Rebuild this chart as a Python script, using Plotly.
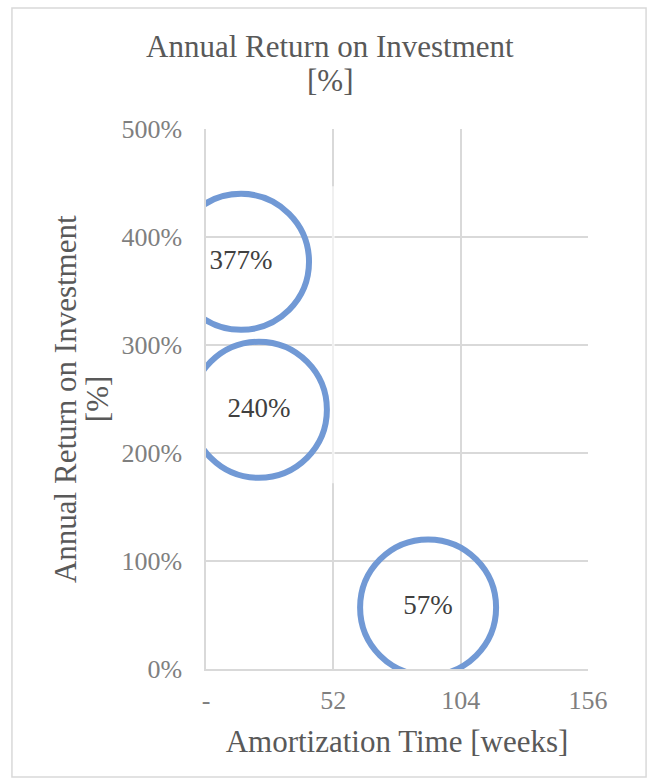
import plotly.graph_objects as go

# Amortization time (weeks) and annual return on investment (%) per project
amortization_weeks = [14.3, 21.6, 90.7]
annual_roi_pct = [377, 240, 57]
roi_labels = [f"{v}%" for v in annual_roi_pct]

x_tick_vals = [0, 52, 104, 156]
x_tick_text = ["-", "52", "104", "156"]
y_tick_vals = [0, 100, 200, 300, 400, 500]
y_tick_text = [f"{v}%" for v in y_tick_vals]

title_lines = ["Annual Return on Investment", "[%]"]
y_title_lines = ["Annual Return on Investment", "[%]"]

FONT = "Liberation Serif, Times New Roman, serif"
GRID = "#d9d9d9"
BUBBLE = "#7199d5"
TITLE_FONT = dict(family=FONT, size=31, color="#595959")
TICK_FONT = dict(family=FONT, size=26, color="#7f7f7f")

fig = go.Figure()

fig.add_trace(go.Scatter(
    x=amortization_weeks,
    y=annual_roi_pct,
    mode="markers+text",
    text=roi_labels,
    textposition="middle center",
    textfont=dict(family=FONT, size=27, color="#404040"),
    marker=dict(
        size=136,
        color="rgba(255,255,255,0)",
        line=dict(color=BUBBLE, width=6),
    ),
    cliponaxis=True,
    showlegend=False,
    hoverinfo="x+y",
))

# faded stretch of the 52-week gridline behind the upper bubbles
fig.add_shape(
    type="line", xref="x", yref="y",
    x0=52, x1=52, y0=172, y1=447,
    line=dict(color="rgba(255,255,255,0.6)", width=3),
    layer="between",
)

# outer chart frame
fig.add_shape(
    type="rect", xref="paper", yref="paper",
    x0=-0.508, x1=1.152, y0=-0.2, y1=1.224,
    line=dict(color="#d9d9d9", width=1.5),
    fillcolor="rgba(0,0,0,0)",
    layer="below",
)

# chart title, one annotation per line
for text, py in zip(title_lines, [1.1537, 1.0907]):
    fig.add_annotation(
        text=text, xref="paper", yref="paper",
        x=0.325, y=py, xanchor="center", yanchor="middle",
        showarrow=False, font=TITLE_FONT,
    )

# vertical axis title, one rotated annotation per line
for text, px in zip(y_title_lines, [-0.369, -0.285]):
    fig.add_annotation(
        text=text, xref="paper", yref="paper",
        x=px, y=0.5, xanchor="center", yanchor="middle",
        textangle=-90, showarrow=False, font=TITLE_FONT,
    )

fig.update_layout(
    width=652,
    height=784,
    margin=dict(l=206, r=64, t=129, b=115),
    paper_bgcolor="white",
    plot_bgcolor="white",
    font=dict(family=FONT, color="#595959"),
    xaxis=dict(
        range=[0, 156],
        tickvals=x_tick_vals,
        ticktext=x_tick_text,
        showgrid=True,
        gridcolor=GRID,
        gridwidth=1.5,
        zeroline=False,
        showline=True,
        linecolor=GRID,
        linewidth=1.5,
        ticks="",
        ticklabelstandoff=7,
        tickfont=TICK_FONT,
        title=dict(
            text="Amortization Time [weeks]",
            font=TITLE_FONT,
            standoff=16,
        ),
        fixedrange=True,
    ),
    yaxis=dict(
        range=[0, 500],
        tickvals=y_tick_vals,
        ticktext=y_tick_text,
        showgrid=True,
        gridcolor=GRID,
        gridwidth=1.5,
        zeroline=False,
        showline=True,
        linecolor=GRID,
        linewidth=1.5,
        ticks="",
        ticklabelstandoff=17,
        tickfont=TICK_FONT,
        fixedrange=True,
    ),
)

fig.write_html("out.html")
